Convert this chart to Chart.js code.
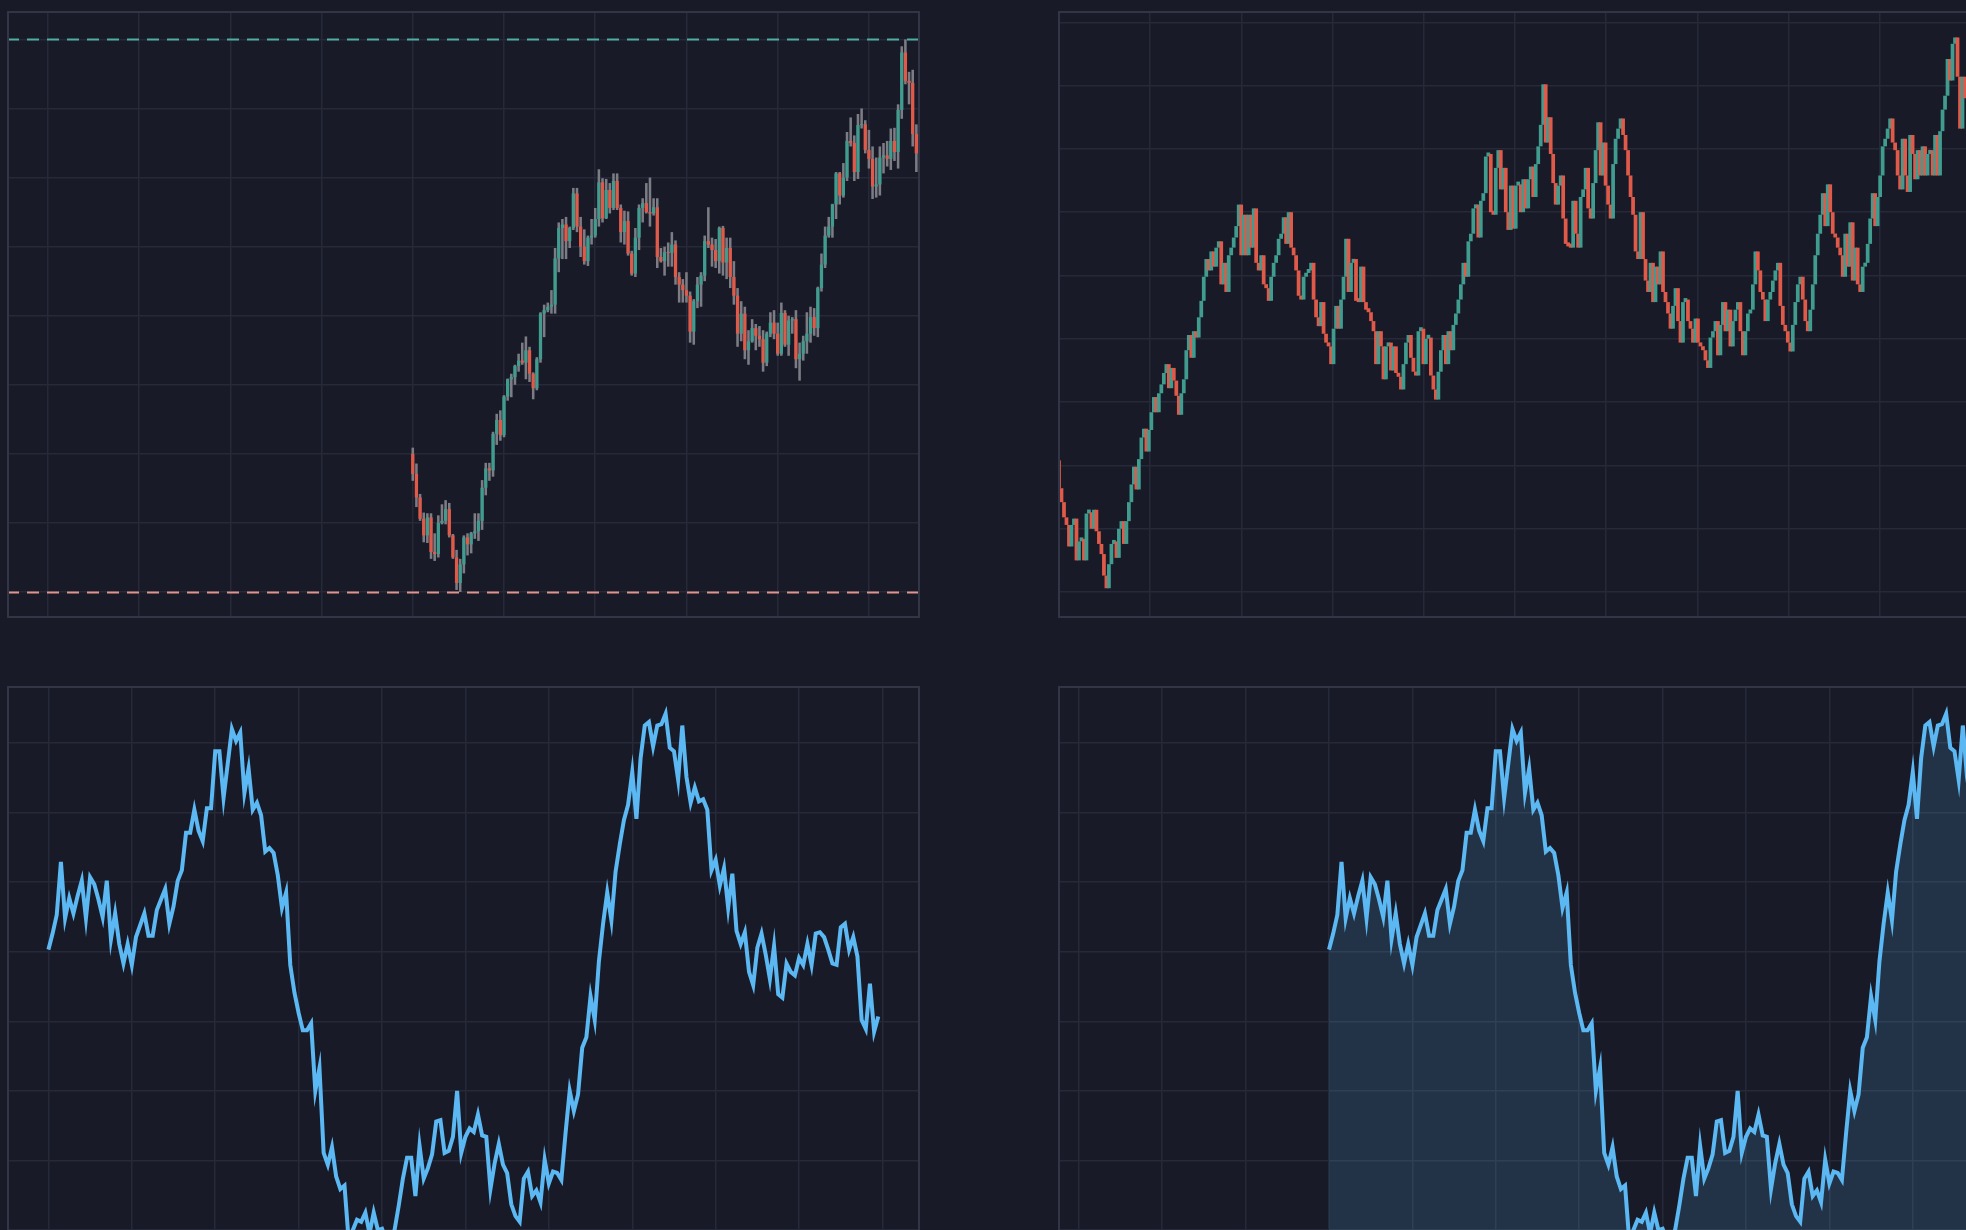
<!DOCTYPE html>
<html>
<head>
<meta charset="utf-8">
<script src="https://cdn.jsdelivr.net/npm/chart.js@4.4.1/dist/chart.umd.min.js"></script>
<style>
  html, body { margin: 0; padding: 0; background: #181a27; overflow: hidden; width: 1966px; height: 1230px; }
  canvas { position: absolute; }
</style>
</head>
<body>
<canvas id="tl" width="913" height="607" style="left:7px;top:11px"></canvas>
<canvas id="tr" width="913" height="607" style="left:1058px;top:11px"></canvas>
<canvas id="bl" width="913" height="607" style="left:7px;top:686px"></canvas>
<canvas id="br" width="913" height="607" style="left:1058px;top:686px"></canvas>
<script>
// ===============================
// Data: top-left candles (OHLC)
// ===============================
const tlOpen = [120.0, 117.1, 113.7, 110.6, 108.2, 110.8, 105.8, 105.5, 110.0, 110.3,
  112.0, 108.2, 105.0, 101.3, 104.0, 107.9, 106.9, 108.5, 108.8, 110.3,
  115.1, 117.9, 117.6, 122.9, 124.9, 122.7, 128.3, 130.8, 131.1, 132.7,
  133.5, 133.2, 135.0, 131.6, 129.5, 133.7, 140.3, 140.8, 141.3, 141.6,
  148.3, 152.7, 153.2, 150.8, 152.7, 157.7, 152.9, 150.0, 147.9, 151.3,
  151.6, 154.0, 159.3, 154.1, 158.2, 155.6, 159.5, 155.6, 152.1, 153.7,
  149.0, 146.1, 151.3, 155.6, 156.3, 155.0, 154.8, 155.7, 148.5, 147.9,
  149.2, 149.1, 150.3, 145.6, 144.5, 143.7, 142.9, 137.7, 142.1, 144.5,
  145.8, 150.8, 150.3, 149.5, 147.9, 152.7, 147.7, 149.8, 145.6, 142.9,
  137.4, 140.3, 135.0, 136.3, 138.2, 137.1, 136.6, 133.2, 137.4, 139.0,
  137.4, 134.5, 140.4, 135.8, 139.3, 139.5, 133.7, 134.5, 136.3, 137.4,
  139.8, 138.2, 144.0, 147.4, 151.6, 152.9, 156.1, 160.6, 157.4, 160.0,
  165.3, 165.0, 160.8, 167.6, 167.7, 164.0, 162.7, 158.7, 159.0, 162.9,
  163.2, 162.7, 165.3, 163.7, 169.8, 178.1, 174.0, 173.7, 166.3, 163.5,
  160.8];
const tlClose = [117.1, 113.7, 110.6, 108.2, 110.8, 105.8, 105.5, 110.0, 110.3, 112.0,
  108.2, 105.0, 101.3, 104.0, 107.9, 106.9, 108.5, 108.8, 110.3, 115.1,
  117.9, 117.6, 122.9, 124.9, 122.7, 128.3, 130.8, 131.1, 132.7, 133.5,
  133.2, 135.0, 131.6, 129.5, 133.7, 140.3, 140.8, 141.3, 141.6, 148.3,
  152.7, 153.2, 150.8, 152.7, 157.7, 152.9, 150.0, 147.9, 151.3, 151.6,
  154.0, 159.3, 154.1, 158.2, 155.6, 159.5, 155.6, 152.1, 153.7, 149.0,
  146.1, 151.3, 155.6, 156.3, 155.0, 154.8, 155.7, 148.5, 147.9, 149.2,
  149.1, 150.3, 145.6, 144.5, 143.7, 142.9, 137.7, 142.1, 144.5, 145.8,
  150.8, 150.3, 149.5, 147.9, 152.7, 147.7, 149.8, 145.6, 142.9, 137.4,
  140.3, 135.0, 136.3, 138.2, 137.1, 136.6, 133.2, 137.4, 139.0, 137.4,
  134.5, 140.4, 135.8, 139.3, 139.5, 133.7, 134.5, 136.3, 137.4, 139.8,
  138.2, 144.0, 147.4, 151.6, 152.9, 156.1, 160.6, 157.4, 160.0, 165.3,
  165.0, 160.8, 167.6, 167.7, 164.0, 162.7, 158.7, 159.0, 162.9, 163.2,
  162.7, 165.3, 163.7, 169.8, 178.1, 174.0, 173.7, 166.3, 163.5, 160.8,
  164.4];
const tlHigh = [120.9, 118.6, 114.2, 111.5, 111.4, 111.4, 108.5, 111.1, 112.7, 113.3,
  112.9, 108.4, 106.1, 104.8, 108.2, 108.5, 108.7, 111.4, 111.4, 116.2,
  118.7, 118.7, 123.2, 125.8, 126.3, 128.5, 130.9, 131.6, 132.9, 134.5,
  136.1, 137.0, 135.5, 131.8, 134.0, 140.5, 141.6, 141.9, 143.7, 149.8,
  153.5, 154.0, 154.3, 152.9, 158.5, 158.5, 154.3, 152.5, 151.6, 154.0,
  155.6, 161.2, 159.9, 159.8, 159.2, 160.6, 160.6, 156.1, 155.2, 155.1,
  149.4, 152.7, 156.1, 157.0, 159.2, 160.0, 157.0, 157.0, 149.8, 150.0,
  150.6, 152.1, 150.9, 146.3, 145.3, 146.3, 143.5, 142.4, 145.6, 146.3,
  151.6, 155.7, 151.3, 151.1, 152.9, 153.0, 151.3, 151.3, 147.9, 144.0,
  142.1, 141.3, 137.9, 139.5, 138.8, 138.5, 137.9, 137.7, 140.5, 140.8,
  139.0, 141.9, 140.8, 140.0, 139.8, 140.8, 136.1, 137.1, 140.5, 141.3,
  141.1, 144.2, 149.0, 152.9, 154.3, 156.2, 160.8, 160.8, 162.1, 166.6,
  168.7, 166.1, 169.2, 170.0, 168.3, 166.9, 164.5, 162.9, 164.5, 165.0,
  165.3, 167.1, 167.2, 170.6, 179.0, 180.0, 175.3, 175.6, 167.7, 164.0,
  166.1];
const tlLow = [116.1, 112.3, 110.3, 107.2, 107.1, 104.8, 104.5, 105.0, 109.8, 109.8,
  107.9, 104.8, 100.3, 100.0, 102.7, 105.3, 105.6, 107.7, 107.4, 109.0,
  114.0, 116.1, 116.7, 121.3, 121.9, 122.4, 127.7, 128.2, 130.0, 131.9,
  132.9, 130.8, 130.4, 127.9, 129.2, 133.2, 136.9, 140.5, 140.3, 140.3,
  146.3, 148.2, 148.2, 149.8, 152.4, 152.1, 148.5, 147.4, 147.2, 150.3,
  151.3, 152.9, 153.5, 154.0, 154.8, 155.3, 155.3, 150.6, 150.3, 148.7,
  145.8, 145.6, 149.5, 153.5, 154.8, 152.9, 154.5, 146.9, 147.7, 145.8,
  147.1, 147.1, 144.5, 141.9, 141.9, 141.9, 136.1, 135.8, 141.1, 141.3,
  145.0, 149.8, 147.1, 146.9, 146.1, 145.8, 145.3, 144.0, 141.6, 135.5,
  136.3, 133.7, 132.9, 136.1, 135.0, 135.5, 131.9, 132.7, 136.9, 136.6,
  134.2, 134.2, 135.5, 134.2, 137.4, 132.4, 130.6, 133.5, 134.5, 136.1,
  137.1, 136.9, 143.5, 146.9, 151.3, 151.3, 154.0, 156.1, 157.1, 159.5,
  164.5, 159.5, 159.8, 167.1, 163.5, 161.3, 156.9, 157.1, 157.4, 160.6,
  161.6, 161.1, 162.4, 161.3, 168.5, 173.5, 170.6, 164.5, 160.8, 159.2,
  159.2];

// ===============================
// Data: top-right candles (open of each = previous close)
// ===============================
const trFirstOpen = 60.4;
const trClose = [58.2, 57.1, 55.9, 55.3, 53.6, 55.3, 55.8, 52.5, 54.0, 54.2,
  52.5, 56.2, 56.3, 55.0, 56.5, 54.8, 53.8, 53.0, 51.3, 50.3,
  52.2, 53.8, 54.0, 52.7, 55.0, 55.6, 53.8, 55.6, 57.1, 58.5,
  59.9, 58.1, 60.5, 62.2, 62.9, 61.1, 62.8, 64.2, 65.4, 64.2,
  65.7, 66.4, 67.3, 68.0, 66.1, 67.7, 66.7, 65.5, 64.0, 65.7,
  66.8, 69.1, 70.3, 68.5, 70.6, 70.1, 71.7, 73.0, 74.9, 76.3,
  75.4, 76.9, 75.7, 77.2, 77.7, 74.3, 76.0, 73.7, 76.6, 77.2,
  78.0, 78.9, 80.6, 76.6, 79.8, 76.6, 79.8, 77.2, 80.3, 76.0,
  75.4, 76.6, 74.3, 74.0, 73.0, 74.9, 76.0, 76.6, 77.9, 78.3,
  79.6, 77.5, 80.0, 77.2, 76.6, 75.4, 73.4, 73.1, 74.9, 75.2,
  75.4, 76.0, 73.1, 71.7, 71.0, 72.9, 70.4, 69.7, 69.4, 68.0,
  70.8, 72.6, 70.8, 73.1, 74.9, 77.9, 73.7, 76.0, 76.3, 73.0,
  72.9, 75.7, 72.9, 72.3, 72.1, 71.4, 70.6, 68.0, 70.6, 69.4,
  66.8, 69.4, 69.7, 67.5, 69.4, 67.3, 67.0, 66.0, 68.0, 69.7,
  70.3, 68.5, 67.4, 67.1, 70.6, 70.8, 68.0, 70.0, 70.1, 67.1,
  66.0, 65.2, 67.4, 69.1, 70.3, 68.0, 70.6, 69.1, 71.1, 72.0,
  73.1, 74.3, 76.0, 74.9, 77.7, 78.3, 80.3, 80.6, 78.0, 80.9,
  81.5, 84.4, 84.6, 80.0, 79.8, 83.5, 84.9, 81.8, 83.5, 80.0,
  78.6, 82.1, 78.7, 82.1, 82.2, 80.0, 82.6, 80.3, 82.6, 83.6,
  81.2, 83.8, 85.2, 86.9, 90.1, 85.5, 87.5, 84.6, 82.3, 80.6,
  82.1, 82.9, 79.5, 77.5, 77.3, 77.2, 80.9, 78.3, 77.2, 81.2,
  81.8, 83.5, 80.3, 79.5, 82.3, 84.9, 87.1, 82.9, 85.5, 82.1,
  80.6, 79.5, 83.8, 85.8, 86.6, 87.4, 86.1, 84.9, 82.9, 81.2,
  79.8, 76.9, 76.3, 80.0, 76.3, 74.6, 73.7, 76.0, 72.9, 75.7,
  74.3, 76.9, 73.7, 72.9, 72.0, 70.8, 72.6, 74.0, 71.4, 69.7,
  72.9, 73.1, 71.4, 70.8, 69.7, 71.6, 69.7, 69.4, 69.1, 68.3,
  67.7, 70.1, 70.6, 71.4, 68.7, 71.1, 72.9, 70.6, 72.3, 69.4,
  71.4, 72.3, 72.9, 70.6, 68.7, 70.6, 72.0, 72.3, 74.3, 76.9,
  75.4, 73.7, 73.1, 71.4, 73.1, 73.7, 74.6, 75.4, 76.0, 72.6,
  71.1, 70.6, 69.7, 69.0, 71.1, 72.9, 74.3, 74.9, 73.1, 71.4,
  70.6, 72.3, 74.3, 76.6, 78.3, 79.8, 81.5, 78.9, 82.2, 80.0,
  78.3, 78.0, 77.2, 76.6, 74.9, 78.3, 75.7, 79.2, 74.6, 77.2,
  74.3, 73.7, 75.7, 76.0, 77.5, 79.5, 81.5, 78.9, 81.2, 82.9,
  85.2, 85.8, 86.6, 87.4, 85.5, 84.9, 82.9, 81.8, 85.8, 82.9,
  81.6, 86.1, 84.6, 82.6, 84.9, 82.9, 85.2, 82.9, 84.6, 84.9,
  82.9, 86.1, 82.9, 86.4, 88.1, 89.2, 92.1, 90.4, 93.3, 93.8,
  90.7, 86.6, 90.7, 89.0];

// ===============================
// Data: bottom line / area series
// ===============================
const lineValues = [140.3, 142.6, 145.3, 152.9, 144.8, 147.7, 145.5, 148.0, 150.2, 144.8,
  150.7, 149.7, 147.5, 145.0, 150.2, 141.8, 145.5, 141.1, 138.3, 141.1,
  138.1, 142.1, 143.8, 145.5, 142.3, 142.3, 146.0, 147.5, 149.0, 144.0,
  146.5, 150.2, 151.7, 157.1, 157.1, 160.4, 157.4, 155.9, 160.6, 160.6,
  168.8, 168.8, 162.1, 167.0, 172.0, 170.3, 171.5, 162.8, 166.3, 160.4,
  161.4, 159.6, 154.4, 154.9, 154.2, 151.0, 146.3, 148.5, 138.1, 134.1,
  131.2, 128.7, 128.7, 129.7, 120.0, 123.3, 111.1, 109.4, 111.9, 107.7,
  105.9, 106.4, 98.5, 100.0, 101.5, 101.2, 102.5, 99.5, 102.5, 100.0,
  100.2, 98.5, 97.5, 100.0, 103.5, 107.4, 110.4, 110.4, 104.9, 112.1,
  107.4, 108.9, 110.9, 115.6, 115.8, 111.1, 111.4, 113.4, 120.0, 111.1,
  113.4, 114.6, 114.1, 116.6, 113.6, 113.4, 105.9, 109.6, 112.4, 109.4,
  108.2, 103.7, 102.0, 101.2, 107.4, 108.4, 104.9, 105.7, 104.0, 110.1,
  106.7, 108.4, 108.2, 107.2, 113.9, 120.0, 117.1, 119.5, 126.2, 127.7,
  133.6, 130.2, 138.6, 144.0, 148.5, 144.5, 151.5, 155.4, 158.9, 161.1,
  165.8, 159.1, 167.8, 172.5, 173.0, 169.5, 172.5, 172.7, 174.2, 169.3,
  168.8, 164.7, 172.5, 165.1, 161.4, 163.6, 161.6, 161.9, 160.4, 151.7,
  153.2, 149.5, 152.0, 146.3, 151.2, 143.0, 141.1, 142.8, 137.1, 135.2,
  140.6, 142.6, 139.6, 136.1, 140.8, 133.9, 133.4, 138.3, 137.1, 136.6,
  139.1, 138.1, 141.1, 138.1, 142.6, 142.8, 142.1, 140.3, 138.3, 138.1,
  143.5, 144.0, 140.3, 142.1, 139.3, 130.2, 128.9, 135.4, 128.5, 130.7];

// tick values (labels hidden in the picture, grid only)
const tlPriceTicks = [100, 110, 120, 130, 140, 150, 160, 170, 180];
const trPriceTicks = [50, 55, 60, 65, 70, 75, 80, 85, 90, 95];
const linePriceTicks = [100, 110, 120, 130, 140, 150, 160, 170];

// ===============================
// Styles
// ===============================
const GRID = "#262939";
const FRAME = "#323545";
const UP = "#3f9c8f";
const DOWN = "#e05a49";
const WICK = "#7c7d84";
const LINE = "#5bb8f2";

function steps(from, to, step) {
  const out = [];
  for (let v = from; v <= to + 1e-6; v += step) out.push(v);
  return out;
}

function axis(min, max, tickValues) {
  return {
    type: "linear",
    min: min,
    max: max,
    offset: false,
    grid: { color: GRID, lineWidth: 1.5, drawTicks: false, offset: false },
    border: { display: false },
    ticks: { display: false },
    afterBuildTicks: (scale) => {
      scale.ticks = tickValues.map((v) => ({ value: v }));
    },
  };
}

const framePlugin = {
  id: "frame",
  afterDraw(chart) {
    const { ctx, chartArea: a } = chart;
    ctx.save();
    ctx.strokeStyle = FRAME;
    ctx.lineWidth = 2;
    ctx.strokeRect(a.left + 1, a.top + 1, a.right - a.left - 2, a.bottom - a.top - 2);
    ctx.restore();
  },
};

const levelPlugin = {
  id: "levels",
  afterDatasetsDraw(chart, args, opts) {
    if (!opts || !opts.lines) return;
    const { ctx, chartArea: a } = chart;
    const y = chart.scales.y;
    ctx.save();
    opts.lines.forEach((l) => {
      const py = Math.round(y.getPixelForValue(l.value)) + 0.5;
      ctx.strokeStyle = l.color;
      ctx.lineWidth = 2;
      ctx.setLineDash([12, 8]);
      ctx.beginPath();
      ctx.moveTo(a.left, py);
      ctx.lineTo(a.right, py);
      ctx.stroke();
    });
    ctx.restore();
  },
};

function baseOptions(xAxis, yAxis, levels) {
  return {
    responsive: false,
    animation: false,
    events: [],
    layout: { padding: 0 },
    scales: { x: xAxis, y: yAxis },
    plugins: {
      legend: { display: false },
      tooltip: { enabled: false },
      levels: levels || {},
    },
  };
}

const candleColor = (ctx) => {
  if (!ctx.raw) return UP;
  return ctx.raw.y[1] >= ctx.raw.y[0] ? UP : DOWN;
};

// ===============================
// Top-left: candlesticks with grey wicks + high/low levels
// (ungrouped bars: width = spacing * barPercentage * categoryPercentage)
// ===============================
new Chart(document.getElementById("tl"), {
  type: "bar",
  data: {
    datasets: [
      {
        data: tlLow.map((l, k) => ({ x: k, y: [l, tlHigh[k]] })),
        backgroundColor: WICK,
        barPercentage: 0.7,
        categoryPercentage: 1,
        grouped: false,
        order: 2,
      },
      {
        data: tlClose.map((c, k) => ({ x: k, y: [tlOpen[k], c] })),
        backgroundColor: candleColor,
        barPercentage: 0.9,
        categoryPercentage: 1,
        minBarLength: 1,
        grouped: false,
        order: 1,
      },
    ],
  },
  options: baseOptions(
    axis(-111.2, 139.0, steps(-100, 125, 25)),
    axis(96.24, 184.11, tlPriceTicks),
    {
      lines: [
        { value: Math.max(...tlHigh), color: "#4fada2" },
        { value: Math.min(...tlLow), color: "#e0948d" },
      ],
    }
  ),
  plugins: [levelPlugin, framePlugin],
});

// ===============================
// Top-right: dense candlesticks
// ===============================
const trSpacing = 91.2 / 2.496;
new Chart(document.getElementById("tr"), {
  type: "bar",
  data: {
    datasets: [
      {
        data: trClose.map((c, j) => ({ x: j, y: [j === 0 ? trFirstOpen : trClose[j - 1], c] })),
        backgroundColor: candleColor,
        barPercentage: 1.5,
        categoryPercentage: 1,
        minBarLength: 4,
        grouped: false,
      },
    ],
  },
  options: baseOptions(
    axis(-0.4, 365.4, steps(0, 365.4, trSpacing)),
    axis(47.95, 95.89, trPriceTicks)
  ),
  plugins: [framePlugin],
});

// ===============================
// Bottom: line and area of the same series
// ===============================
function lineChart(id, xMin, xMax, filled) {
  return new Chart(document.getElementById(id), {
    type: "line",
    data: {
      datasets: [
        {
          data: lineValues.map((v, i) => ({ x: i, y: v })),
          borderColor: LINE,
          borderWidth: 4,
          pointRadius: 0,
          tension: 0,
          fill: filled ? "start" : false,
          backgroundColor: "rgba(91,184,242,0.16)",
        },
      ],
    },
    options: baseOptions(
      axis(xMin, xMax, steps(Math.ceil(xMin / 20) * 20, xMax, 20)),
      axis(90.96, 178.18, linePriceTicks)
    ),
    plugins: [framePlugin],
  });
}

lineChart("bl", -9.93, 209.0, false);
lineChart("br", -64.99, 153.96, true);
</script>
</body>
</html>
